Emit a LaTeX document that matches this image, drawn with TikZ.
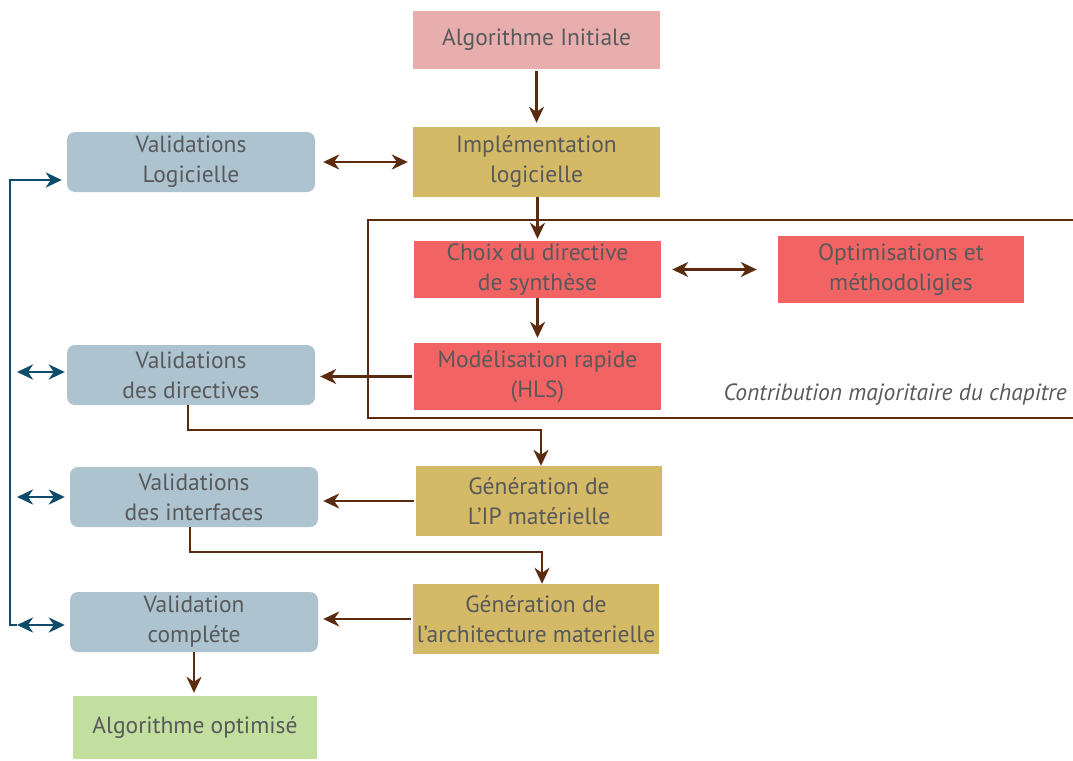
\documentclass[tikz,border=0pt]{standalone}
\usepackage{fontspec}
\setmainfont{PT Sans}
\usetikzlibrary{arrows.meta,calc}
\definecolor{cpink}{HTML}{E8AEAE}
\definecolor{cgold}{HTML}{D4B966}
\definecolor{cred}{HTML}{F26363}
\definecolor{cblue}{HTML}{AEC3D0}
\definecolor{cgreen}{HTML}{C3DF9F}
\definecolor{cbrown}{HTML}{5A2B0E}
\definecolor{cline}{HTML}{0E4C6C}
\definecolor{ctext}{HTML}{58595B}
\tikzset{
  box/.style={rectangle, inner sep=0pt, align=center, text=ctext,
    font=\fontsize{23.5pt}{30pt}\selectfont},
  vbox/.style={box, fill=cblue, rounded corners=8pt, minimum width=248pt, minimum height=60pt},
  tip/.style={-{Stealth[length=16pt,width=15pt,inset=5pt]}},
  dtip/.style={{Stealth[length=16pt,width=15pt,inset=5pt]}-{Stealth[length=16pt,width=15pt,inset=5pt]}},
  br/.style={draw=cbrown, line width=2.2pt, color=cbrown},
  bl/.style={draw=cline, line width=2.8pt, color=cline},
}
\begin{document}
\begin{tikzpicture}[x=1pt,y=-1pt]
\useasboundingbox (0,0) rectangle (1073,760);
% nodes
\node[box, fill=cpink, minimum width=247pt, minimum height=58pt] (algo) at (536.5,40) {Algorithme Initiale};
\node[box, fill=cgold, minimum width=247pt, minimum height=70pt] (impl) at (536.5,162) {Implémentation\\logicielle};
\node[vbox] (vlog) at (191,162) {Validations\\Logicielle};
\node[box, fill=cred, minimum width=247pt, minimum height=57pt] (choix) at (537.5,269.5) {Choix du directive\\de synthèse};
\node[box, fill=cred, minimum width=246pt, minimum height=67pt] (optim) at (901,269.5) {Optimisations et\\méthodoligies};
\node[box, fill=cred, minimum width=247pt, minimum height=67pt] (model) at (537.5,376.5) {Modélisation rapide\\(HLS)};
\node[vbox] (vdir) at (191,375) {Validations\\des directives};
\node[box, fill=cgold, minimum width=246pt, minimum height=70pt] (genip) at (539,501) {Génération de\\L’IP matérielle};
\node[vbox] (vint) at (194,497) {Validations\\des interfaces};
\node[box, fill=cgold, minimum width=246pt, minimum height=70pt] (genarch) at (536,619) {Génération de\\l’architecture materielle};
\node[vbox] (vcomp) at (194,622) {Validation\\compléte};
\node[box, fill=cgreen, minimum width=244pt, minimum height=63pt] (algopt) at (195,727.5) {Algorithme optimisé};
\node[box, anchor=east, font=\fontsize{23.5pt}{30pt}\selectfont\itshape] (contrib) at (1067,395) {Contribution majoritaire du chapitre};
% frame
\draw[br] (1075,220) -- (368,220) -- (368,418) -- (1075,418);
% brown connectors
\draw[br, tip, shorten <=2pt, shorten >=4pt] (algo.south) -- (impl.north);
\draw[br, dtip, shorten <=8pt, shorten >=5pt] (vlog.east) -- (vlog.east -| impl.west);
\draw[br, tip, shorten >=2pt] (impl.south -| choix.north) -- (choix.north);
\draw[br, dtip, shorten <=11pt, shorten >=21pt] (choix.east) -- (choix.east -| optim.west);
\draw[br, tip, shorten >=5pt] (choix.south) -- (model.north);
\draw[br, tip, shorten <=2pt, shorten >=5pt] (model.west) -- (model.west -| vdir.east);
\draw[br, tip] ([xshift=-3pt]vdir.south) -- ++(0,25) -| ([xshift=2pt]genip.north);
\draw[br, tip, shorten <=2pt, shorten >=5pt] (genip.west) -- (genip.west -| vint.east);
\draw[br, tip] ([xshift=-4pt]vint.south) -- ++(0,25) -| ([xshift=6pt]genarch.north);
\draw[br, tip, shorten <=2pt, shorten >=5pt] (genarch.west) -- (genarch.west -| vcomp.east);
\draw[br, tip, shorten >=3pt] (vcomp.south) -- (vcomp.south |- algopt.north);
% blue connectors
\coordinate (b1) at (10,625);
\coordinate (b2) at (10,180);
\coordinate (d1) at (17,372);
\coordinate (d2) at (17,497);
\coordinate (d3) at (17,625);
\draw[bl, tip, shorten >=5pt] (d3) -- (b1) -- (b2) -- (b2 -| vlog.west);
\draw[bl, dtip, shorten >=2pt] (d1) -- (d1 -| vdir.west);
\draw[bl, dtip, shorten >=5pt] (d2) -- (d2 -| vint.west);
\draw[bl, dtip, shorten >=5pt] (d3) -- (d3 -| vcomp.west);
\end{tikzpicture}
\end{document}
